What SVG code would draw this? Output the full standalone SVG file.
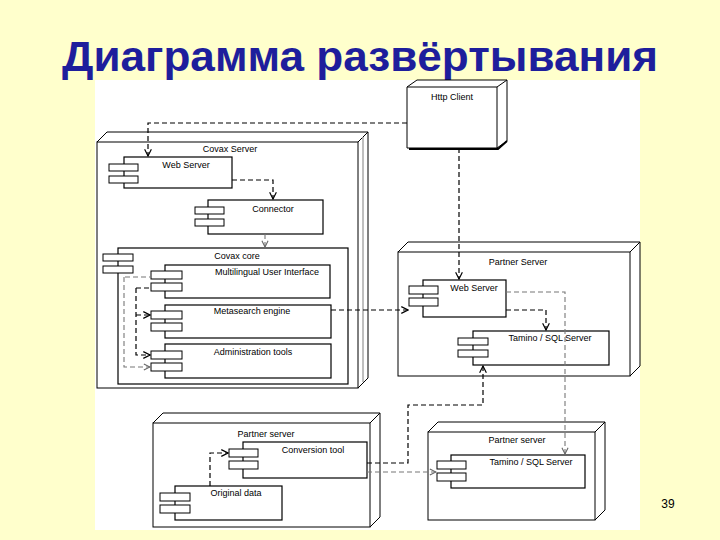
<svg xmlns="http://www.w3.org/2000/svg" width="720" height="540" viewBox="0 0 720 540">
<defs>
<marker id="ar" viewBox="0 0 10 10" refX="9" refY="5" markerWidth="7" markerHeight="7" orient="auto-start-reverse"><path d="M1,1 L9,5 L1,9" fill="none" stroke="#000" stroke-width="1.4"/></marker>
<marker id="ag" viewBox="0 0 10 10" refX="9" refY="5" markerWidth="7" markerHeight="7" orient="auto-start-reverse"><path d="M1,1 L9,5 L1,9" fill="none" stroke="#666" stroke-width="1.4"/></marker>
</defs>
<style>
.nd{fill:#fff;stroke:#000;stroke-width:1}
.cp{fill:#fff;stroke:#000;stroke-width:1.2}
.tb{fill:#fff;stroke:#000;stroke-width:1}
.t{font-family:"Liberation Sans",Arial,sans-serif;font-size:9px;fill:#000}
.d{fill:none;stroke:#000;stroke-width:1.2;stroke-dasharray:5,3}
.g{fill:none;stroke:#777;stroke-width:1.1;stroke-dasharray:5,3}
</style>
<rect width="720" height="540" fill="#FFFFCC"/>
<rect x="95" y="80" width="545" height="450" fill="#fff"/>
<text x="360" y="71" text-anchor="middle" font-family="Liberation Sans,Arial,sans-serif" font-size="43" font-weight="bold" fill="#1e1e9c" textLength="596" lengthAdjust="spacingAndGlyphs">Диаграмма развёртывания</text>
<text x="668" y="508" text-anchor="middle" font-family="Liberation Sans,Arial,sans-serif" font-size="12" fill="#000">39</text>

<g id="http-client">
<path class="nd" d="M407,87 L417,80 H507 V141 L497,148 M497,87 L507,80"/>
<path class="nd" d="M407,87 H497 V148 H407 Z"/>
<path d="M409,149 H498 L507,141" fill="none" stroke="#000" stroke-width="2"/>
<text class="t" x="452" y="100" text-anchor="middle">Http Client</text>
</g>

<g id="covax-server">
<path class="nd" d="M97,142 L107,132 H368 V378 L358,388 M358,142 L368,132"/>
<rect class="nd" x="97" y="142" width="261" height="246"/>
<path d="M363,137 V382" stroke="#aaa" stroke-width="1.5" fill="none"/>
<text class="t" x="230" y="152" text-anchor="middle">Covax Server</text>
</g>
<g id="web-server-1">
<rect class="cp" x="124" y="157" width="108" height="31"/>
<rect class="tb" x="109" y="164" width="29" height="7"/><rect class="tb" x="109" y="176" width="29" height="7"/>
<text class="t" x="186" y="168" text-anchor="middle">Web Server</text>
</g>
<g id="connector">
<rect class="cp" x="208" y="200" width="115" height="34"/>
<rect class="tb" x="195" y="207" width="29" height="7"/><rect class="tb" x="195" y="219" width="29" height="7"/>
<text class="t" x="273" y="212" text-anchor="middle">Connector</text>
</g>
<g id="covax-core">
<rect class="cp" x="118" y="248" width="230" height="136"/>
<rect class="tb" x="103" y="254" width="30" height="7"/><rect class="tb" x="103" y="266" width="30" height="7"/>
<text class="t" x="237" y="259" text-anchor="middle">Covax core</text>
</g>
<g id="mui">
<rect class="cp" x="165" y="265" width="165" height="33"/>
<rect class="tb" x="151" y="271" width="31" height="8"/><rect class="tb" x="151" y="283" width="31" height="8"/>
<text class="t" x="267" y="275" text-anchor="middle">Multilingual User Interface</text>
</g>
<g id="metasearch">
<rect class="cp" x="165" y="305" width="166" height="33"/>
<rect class="tb" x="151" y="311" width="31" height="8"/><rect class="tb" x="151" y="323" width="31" height="8"/>
<text class="t" x="252" y="314" text-anchor="middle">Metasearch engine</text>
</g>
<g id="admin">
<rect class="cp" x="165" y="344" width="166" height="34"/>
<rect class="tb" x="151" y="351" width="31" height="8"/><rect class="tb" x="151" y="363" width="31" height="8"/>
<text class="t" x="253" y="355" text-anchor="middle">Administration tools</text>
</g>

<g id="partner-server-1">
<path class="nd" d="M398,252 L408,242 H640 V366 L630,376 M630,252 L640,242"/>
<rect class="nd" x="398" y="252" width="232" height="124"/>
<text class="t" x="518" y="265" text-anchor="middle">Partner Server</text>
</g>
<g id="web-server-2">
<rect class="cp" x="423" y="280" width="83" height="37"/>
<rect class="tb" x="409" y="286" width="29" height="8"/><rect class="tb" x="409" y="298" width="29" height="8"/>
<text class="t" x="474" y="291" text-anchor="middle">Web Server</text>
</g>
<g id="tamino-1">
<rect class="cp" x="473" y="331" width="136" height="34"/>
<rect class="tb" x="458" y="338" width="30" height="7"/><rect class="tb" x="458" y="350" width="30" height="7"/>
<text class="t" x="550" y="341" text-anchor="middle">Tamino / SQL Server</text>
</g>

<g id="partner-server-2">
<path class="nd" d="M153,423 L163,413 H380 V517 L370,527 M370,423 L380,413"/>
<rect class="nd" x="153" y="423" width="217" height="104"/>
<text class="t" x="266" y="437" text-anchor="middle">Partner server</text>
</g>
<g id="conversion-tool">
<rect class="cp" x="243" y="442" width="124" height="36"/>
<rect class="tb" x="229" y="449" width="29" height="8"/><rect class="tb" x="229" y="461" width="29" height="8"/>
<text class="t" x="313" y="453" text-anchor="middle">Conversion tool</text>
</g>
<g id="original-data">
<rect class="cp" x="175" y="486" width="107" height="34"/>
<rect class="tb" x="160" y="493" width="30" height="8"/><rect class="tb" x="160" y="505" width="30" height="8"/>
<text class="t" x="236" y="496" text-anchor="middle">Original data</text>
</g>
<g id="partner-server-3">
<path class="nd" d="M428,432 L438,422 H605 V510 L595,520 M595,432 L605,422"/>
<rect class="nd" x="428" y="432" width="167" height="88"/>
<text class="t" x="517" y="443" text-anchor="middle">Partner server</text>
</g>
<g id="tamino-2">
<rect class="cp" x="451" y="455" width="134" height="33"/>
<rect class="tb" x="437" y="461" width="29" height="8"/><rect class="tb" x="437" y="473" width="29" height="8"/>
<text class="t" x="531" y="465" text-anchor="middle">Tamino / SQL Server</text>
</g>

<g id="connectors">
<path class="d" d="M407,123 H148 V156" marker-end="url(#ar)"/>
<path class="d" d="M232,180 H273 V199" marker-end="url(#ar)"/>
<path class="g" d="M265,234 V247" marker-end="url(#ag)"/>
<path class="d" d="M459,148 V279" marker-end="url(#ar)"/>
<path class="d" d="M331,310 H408" marker-end="url(#ar)"/>
<path class="g" d="M506,292 H565 V454" marker-end="url(#ag)"/>
<path class="d" d="M506,310 H546 V330" marker-end="url(#ar)"/>
<path class="d" d="M367,463 H408 V405 H483 V366" marker-end="url(#ar)"/>
<path class="g" d="M367,472 H436" marker-end="url(#ag)"/>
<path class="d" d="M210,486 V453 H228" marker-end="url(#ar)"/>
<path class="g" d="M125,277 H150"/>
<path class="d" d="M136,288 H150"/>
<path class="d" d="M136,288 V355 H150" marker-end="url(#ar)"/>
<path class="d" d="M136,315 H150" marker-end="url(#ar)"/>
<path class="g" d="M124,277 V367 H150" marker-end="url(#ag)"/>
</g>
</svg>
